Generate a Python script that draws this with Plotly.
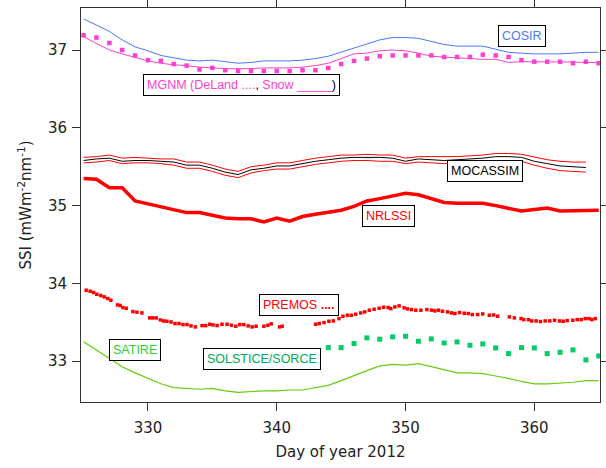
import plotly.graph_objects as go

days = list(range(325, 366))

cosir = [37.40, 37.32, 37.24, 37.13, 37.04, 36.99, 36.93, 36.90, 36.87, 36.86,
         36.87, 36.85, 36.83, 36.84, 36.86, 36.86, 36.86, 36.87, 36.89, 36.92,
         36.97, 37.03, 37.08, 37.13, 37.16, 37.16, 37.15, 37.11, 37.07, 37.05,
         37.05, 37.05, 37.01, 36.97, 36.96, 36.95, 36.95, 36.95, 36.96, 36.97, 36.97]

mgnm_snow = [37.17, 37.08, 37.00, 36.95, 36.91, 36.86, 36.83, 36.81, 36.80, 36.78,
             36.77, 36.76, 36.76, 36.76, 36.77, 36.77, 36.77, 36.78, 36.80, 36.83,
             36.89, 36.95, 36.96, 36.99, 37.00, 36.99, 36.96, 36.92, 36.91, 36.90,
             36.89, 36.88, 36.88, 36.84, 36.85, 36.85, 36.85, 36.85, 36.845, 36.84, 36.84]

mgnm_deland = [37.19, 37.16, 37.09, 37.00, 36.93, 36.87, 36.86, 36.82, 36.80, 36.75,
               36.77, 36.74, 36.73, 36.73, 36.73, 36.73, 36.73, 36.74, 36.74, 36.77,
               36.82, 36.86, 36.89, 36.92, 36.93, 36.93, 36.93, 36.93, 36.91, 36.91,
               36.91, 36.94, 36.93, 36.91, 36.87, 36.85, 36.85, 36.85, 36.83, 36.85, 36.83]

moc_days = list(range(325, 365))
moc_mid = [35.58, 35.60, 35.61, 35.57, 35.58, 35.58, 35.57, 35.56, 35.52, 35.52,
           35.48, 35.43, 35.40, 35.46, 35.48, 35.51, 35.51, 35.54, 35.57, 35.59,
           35.61, 35.62, 35.62, 35.62, 35.61, 35.57, 35.60, 35.59, 35.58, 35.59,
           35.60, 35.61, 35.63, 35.63, 35.62, 35.57, 35.54, 35.51, 35.50, 35.49]
moc_up = [35.62, 35.63, 35.65, 35.61, 35.62, 35.61, 35.60, 35.60, 35.56, 35.56,
          35.52, 35.47, 35.44, 35.50, 35.52, 35.55, 35.55, 35.58, 35.61, 35.63,
          35.65, 35.65, 35.66, 35.65, 35.65, 35.61, 35.63, 35.63, 35.63, 35.63,
          35.64, 35.65, 35.67, 35.67, 35.66, 35.62, 35.59, 35.57, 35.56, 35.56]
moc_lo = [35.55, 35.56, 35.58, 35.54, 35.55, 35.55, 35.54, 35.52, 35.48, 35.48,
          35.44, 35.39, 35.36, 35.42, 35.45, 35.47, 35.47, 35.50, 35.53, 35.55,
          35.57, 35.58, 35.58, 35.57, 35.57, 35.54, 35.56, 35.55, 35.54, 35.55,
          35.56, 35.57, 35.58, 35.58, 35.57, 35.52, 35.48, 35.45, 35.44, 35.43]

nrlssi = [35.35, 35.34, 35.23, 35.23, 35.06, 35.02, 34.98, 34.94, 34.91, 34.91,
          34.87, 34.84, 34.83, 34.83, 34.79, 34.84, 34.80, 34.86, 34.89, 34.91,
          34.94, 34.99, 35.06, 35.09, 35.13, 35.16, 35.14, 35.09, 35.04, 35.03,
          35.03, 35.03, 35.00, 34.97, 34.93, 34.95, 34.97, 34.93, 34.93, 34.93, 34.94]

satire = [33.25, 33.14, 33.03, 32.93, 32.85, 32.78, 32.71, 32.66, 32.65, 32.64,
          32.65, 32.62, 32.60, 32.61, 32.62, 32.62, 32.63, 32.63, 32.66, 32.69,
          32.75, 32.82, 32.88, 32.94, 32.96, 32.95, 32.97, 32.93, 32.89, 32.85,
          32.85, 32.84, 32.81, 32.78, 32.74, 32.71, 32.71, 32.72, 32.73, 32.75, 32.75]

premos_day = [325.20, 325.51, 325.77, 326.03, 326.34, 326.60, 326.88, 327.12, 327.64, 327.84,
              328.05, 328.31, 328.83, 329.14, 329.53, 330.13, 330.38, 330.64, 330.96, 331.21,
              331.47, 331.79, 332.10, 332.41, 332.72, 333.03, 333.34, 333.68, 334.20, 334.48,
              334.79, 335.05, 335.37, 335.75, 336.14, 336.48, 336.82, 337.13, 337.44, 337.78,
              338.09, 338.40, 339.00, 339.31, 339.57, 340.22, 340.42,
              343.02, 343.30, 343.67, 344.05, 344.39, 344.83, 345.14, 345.48, 345.79, 346.13,
              346.52, 346.83, 347.19, 347.56, 347.95, 348.30, 348.65, 348.85, 349.17, 349.50,
              349.89, 350.15, 350.46, 350.80, 351.19, 351.66, 352.02, 352.28, 352.56, 352.87,
              353.26, 353.57, 353.83, 354.20, 354.56, 354.87, 355.18, 355.60, 355.99, 356.51,
              356.84, 357.15,
              358.06, 358.45, 358.97, 359.18, 359.54, 359.80, 360.14, 360.48, 360.84, 361.20,
              361.57, 361.95, 362.24, 362.55, 362.99, 363.33, 363.64, 363.95, 364.24, 364.47, 364.73]
premos_ssi = [33.913, 33.900, 33.883, 33.861, 33.844, 33.827, 33.806, 33.784, 33.724, 33.716,
              33.690, 33.681, 33.638, 33.630, 33.621, 33.557, 33.557, 33.557, 33.531, 33.518,
              33.514, 33.505, 33.484, 33.484, 33.471, 33.471, 33.454, 33.441, 33.458, 33.458,
              33.475, 33.467, 33.458, 33.475, 33.475, 33.463, 33.450, 33.471, 33.471, 33.454,
              33.441, 33.450, 33.450, 33.463, 33.480, 33.441, 33.450,
              33.475, 33.484, 33.497, 33.514, 33.518, 33.548, 33.578, 33.591, 33.591, 33.604,
              33.621, 33.634, 33.656, 33.668, 33.681, 33.694, 33.690, 33.677, 33.698, 33.711,
              33.686, 33.673, 33.664, 33.656, 33.656, 33.664, 33.656, 33.647, 33.656, 33.643,
              33.634, 33.621, 33.613, 33.626, 33.617, 33.613, 33.600, 33.600, 33.608, 33.591,
              33.595, 33.578,
              33.570, 33.557, 33.548, 33.535, 33.535, 33.518, 33.518, 33.510, 33.518, 33.518,
              33.527, 33.518, 33.514, 33.523, 33.527, 33.535, 33.535, 33.548, 33.548, 33.535, 33.548]

sol_days = list(range(343, 366))
solstice = [33.098, 33.175, 33.175, 33.227, 33.300, 33.283, 33.313, 33.321, 33.257, 33.287,
            33.235, 33.248, 33.205, 33.222, 33.171, 33.098, 33.175, 33.171, 33.098, 33.115,
            33.145, 33.017, 33.068]

y_ticks = [33, 34, 35, 36, 37]
x_ticks = [330, 340, 350, 360]

BLUE = "#4a78ff"
MAG = "#ff3fd0"
RED = "#ff0000"
LGREEN = "#66cc11"
SGREEN = "#00cc66"

fig = go.Figure()
fig.add_trace(go.Scatter(x=days, y=satire, mode="lines", line=dict(color=LGREEN, width=1.2)))
fig.add_trace(go.Scatter(x=sol_days, y=solstice, mode="markers",
                         marker=dict(symbol="square", size=5, color=SGREEN)))
fig.add_trace(go.Scatter(x=premos_day, y=premos_ssi, mode="markers",
                         marker=dict(symbol="square", size=3.5, color=RED)))
fig.add_trace(go.Scatter(x=days, y=nrlssi, mode="lines", line=dict(color=RED, width=3.5)))
fig.add_trace(go.Scatter(x=moc_days, y=moc_up, mode="lines", line=dict(color=RED, width=1)))
fig.add_trace(go.Scatter(x=moc_days, y=moc_lo, mode="lines", line=dict(color=RED, width=1)))
fig.add_trace(go.Scatter(x=moc_days, y=moc_mid, mode="lines", line=dict(color="black", width=1)))
fig.add_trace(go.Scatter(x=days, y=mgnm_snow, mode="lines", line=dict(color=MAG, width=1)))
fig.add_trace(go.Scatter(x=days, y=mgnm_deland, mode="markers",
                         marker=dict(symbol="square", size=4.5, color=MAG)))
fig.add_trace(go.Scatter(x=days, y=cosir, mode="lines", line=dict(color=BLUE, width=1)))

LF = "Liberation Sans"
def label(x, y, text, color):
    fig.add_annotation(x=x, y=y, xref="x", yref="y", text=text, showarrow=False,
                       font=dict(family=LF, size=12.5, color=color),
                       bgcolor="white", bordercolor="black", borderwidth=1, borderpad=3)

label(359.05, 37.174, "COSIR", BLUE)
label(337.26, 36.556, "<span style='color:%s'>MGNM (DeLand ....</span>, "
                      "<span style='color:%s'>Snow _____</span>)" % (MAG, MAG), "black")
label(356.17, 35.444, "MOCASSIM", "black")
label(348.7, 34.865, "NRLSSI", RED)
label(341.7, 33.72, "PREMOS <b>....</b>", RED)
label(328.99, 33.141, "SATIRE", "#33cc33")
label(338.82, 33.03, "SOLSTICE/SORCE", "#00aa55")

axis_common = dict(showline=True, linecolor="#333333", linewidth=1, mirror="ticks",
                   ticks="outside", ticklen=8, tickcolor="#333333", showgrid=False,
                   zeroline=False, automargin=False,
                   tickfont=dict(family="DejaVu Sans", size=15, color="#222222"))

fig.update_xaxes(range=[324.8, 365.1], tickvals=x_ticks, ticklabelstandoff=4,
                 title=dict(text="Day of year 2012", standoff=10,
                            font=dict(family="DejaVu Sans", size=15, color="#222222")),
                 **axis_common)
fig.update_yaxes(range=[32.476, 37.54], tickvals=y_ticks, ticklabelstandoff=2,
                 title=dict(text="SSI (mWm<sup>-2</sup>nm<sup>-1</sup>)", standoff=12,
                            font=dict(family="DejaVu Sans", size=15, color="#222222")),
                 **axis_common)

fig.update_layout(width=606, height=468, margin=dict(l=81, r=6, t=8, b=66),
                  plot_bgcolor="white", paper_bgcolor="white", showlegend=False)

fig.write_html("out.html")
